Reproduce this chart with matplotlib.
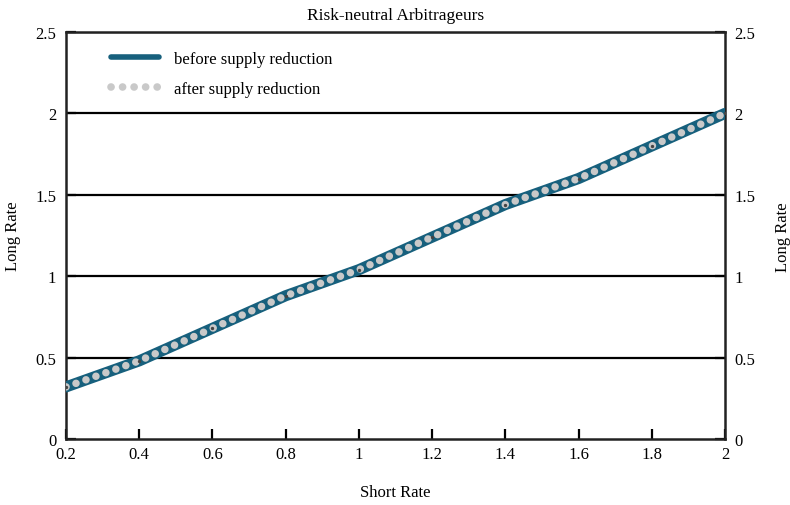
import matplotlib
matplotlib.use("Agg")
import matplotlib.pyplot as plt
from matplotlib.lines import Line2D
from matplotlib.ticker import FuncFormatter

short_rate = [0.2, 0.4, 0.6, 0.8, 1.0, 1.2, 1.4, 1.6, 1.8, 2.0]
long_before = [0.32, 0.48, 0.68, 0.88, 1.04, 1.24, 1.44, 1.60, 1.80, 2.00]
long_after = [0.32, 0.48, 0.68, 0.88, 1.04, 1.24, 1.44, 1.60, 1.80, 2.00]
x_ticks = [0.2, 0.4, 0.6, 0.8, 1.0, 1.2, 1.4, 1.6, 1.8, 2.0]
y_ticks = [0, 0.5, 1, 1.5, 2, 2.5]

teal = "#17607d"
grey = "#c9c9c9"

plt.rcParams['font.family'] = ['Liberation Serif', 'DejaVu Serif']
fig = plt.figure(figsize=(7.9, 5.06), dpi=100)
ax = fig.add_axes([66/790, 66/506, (725-66)/790, (440-33)/506])

for y in y_ticks[1:]:
    ax.axhline(y, color="black", lw=1.6, zorder=1)

ax.plot(short_rate, long_before, color=teal, lw=8, solid_capstyle="round", zorder=3)
ax.plot(short_rate, long_after, color=grey, lw=5.4, linestyle=(0, (0.01, 1.4)),
        dash_capstyle="round", zorder=4)
ax.plot(short_rate, long_after, linestyle="none", marker="o", ms=1.4,
        color="#444444", zorder=5)

ax.set_xlim(0.2, 2.0)
ax.set_ylim(0, 2.5)
ax.set_xticks(x_ticks)
ax.set_yticks(y_ticks)
fmt = FuncFormatter(lambda v, p: f"{v:g}")
ax.xaxis.set_major_formatter(fmt)
ax.yaxis.set_major_formatter(fmt)
ax.tick_params(axis="both", direction="in", length=7, width=1.6, labelsize=12, pad=5)
ax.tick_params(axis="y", left=True, right=True, labelleft=True, labelright=True, pad=7)
for s in ax.spines.values():
    s.set_linewidth(1.8)
    s.set_color("#222222")

ax.set_title("Risk-neutral Arbitrageurs", fontsize=12.5, pad=9)
ax.set_xlabel("Short Rate", fontsize=12, labelpad=16)
ax.set_ylabel("Long Rate", fontsize=12, labelpad=10)
fig.text(783/790, 1 - 237/506, "Long Rate", rotation=90, fontsize=12,
         ha="center", va="center")

handles = [
    Line2D([], [], color=teal, lw=4, solid_capstyle="round"),
    Line2D([], [], color=grey, lw=5.5, linestyle=(0, (0.01, 1.5)), dash_capstyle="round"),
]
ax.legend(handles, ["before supply reduction", "after supply reduction"],
          loc="upper left", bbox_to_anchor=(0.045, 0.99), frameon=False,
          fontsize=12, handlelength=2.9, handletextpad=0.9, labelspacing=0.85)

fig.savefig("out.png", dpi=100)
